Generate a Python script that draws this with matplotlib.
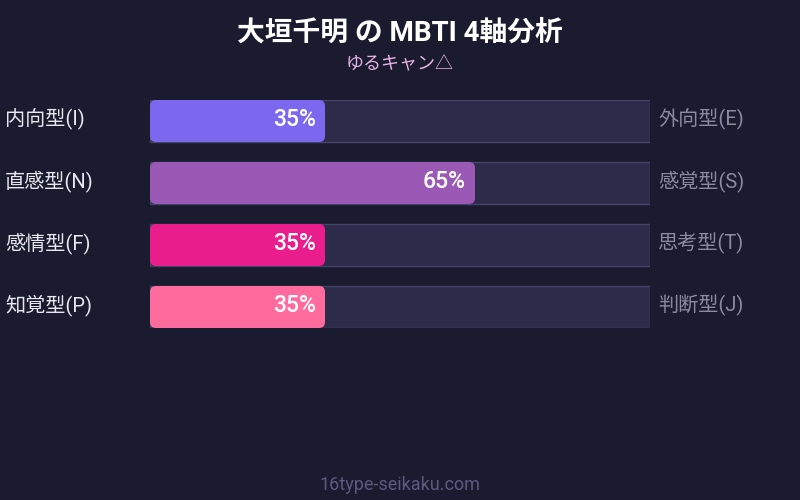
import matplotlib
matplotlib.use("Agg")
import matplotlib.pyplot as plt
from matplotlib.patches import FancyBboxPatch, Rectangle

FAM = ['Roboto', 'Noto Sans CJK JP', 'DejaVu Sans']
plt.rcParams['font.family'] = FAM

title = "大垣千明 の MBTI 4軸分析"
subtitle = "ゆるキャン△"
left_labels = ["内向型(I)", "直感型(N)", "感情型(F)", "知覚型(P)"]
right_labels = ["外向型(E)", "感覚型(S)", "思考型(T)", "判断型(J)"]
values = [35, 65, 35, 35]
colors = ["#7b68ee", "#9b59b6", "#e91e8c", "#ff6b9d"]

BG = "#1a1b2e"
W, H = 800, 500
fig = plt.figure(figsize=(8, 5), dpi=100, facecolor=BG)

# bar area: x 150..650 px, y 100..328 px
half = 21 / 62
ax = fig.add_axes([150 / W, 1 - 328 / H, 500 / W, 228 / H])
ax.set_facecolor("none")
ax.set_xlim(0, 100)
ax.set_ylim(3 + half, -half)
ax.axis("off")

aspect = (6 / 62) / 1.2
dy = -0.03
for i, (v, c) in enumerate(zip(values, colors)):
    ax.add_patch(Rectangle((0, i - half), 100, 2 * half, facecolor="#2d2b4a",
                           edgecolor="#44446a", linewidth=1, zorder=1))
    ax.add_patch(FancyBboxPatch((0, i - half), v, 2 * half,
                                boxstyle="round,pad=0,rounding_size=1.2",
                                mutation_aspect=aspect, facecolor=c,
                                edgecolor="none", zorder=2))
    ax.text(v - 1.8, i + dy, f"{v}%", ha="right", va="center", color="white",
            fontsize=16.5, fontweight="medium", zorder=3)
    ax.text(-29, i + dy, left_labels[i], ha="left", va="center", color="#e8e8f0",
            fontsize=14.5, clip_on=False)
    ax.text(101.6, i + dy, right_labels[i], ha="left", va="center", color="#8a8aa2",
            fontsize=14.5, clip_on=False)

fig.text(0.5, 1 - 33 / H, title, ha="center", va="center", color="white",
         fontsize=20, fontweight="bold")
fig.text(0.5, 1 - 64 / H, subtitle, ha="center", va="center", color="#e8b4e6",
         fontsize=13)
fig.text(0.5, 1 - 485 / H, "16type-seikaku.com", ha="center", va="center",
         color="#5a5a7e", fontsize=13)

fig.savefig("out.png", dpi=100, facecolor=BG)
